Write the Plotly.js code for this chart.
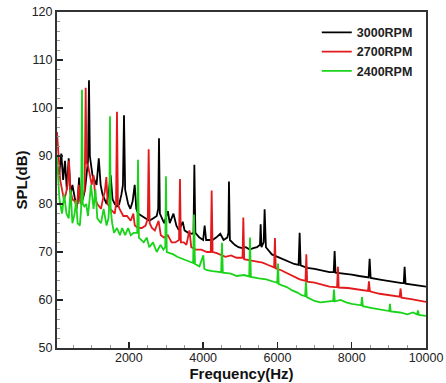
<!DOCTYPE html>
<html>
<head>
<meta charset="utf-8">
<script src="https://cdn.plot.ly/plotly-3.0.1.min.js"></script>
<style>html,body{margin:0;padding:0;background:#fff}#chart{width:446px;height:383px}</style>
</head>
<body>
<div id="chart"></div>
<script>
// 3000 RPM (black)
var f3000 = [65,120,180,230,280,330,380,430,480,550,620,660,700,760,820,880,900,926,950,1020,1080,1130,1190,1240,1290,1340,1400,1450,1510,1560,1620,1680,1740,1800,1840,1869,1900,1980,2040,2100,2157,2200,2250,2350,2450,2550,2650,2750,2790,2811,2835,2950,3050,3100,3200,3280,3350,3450,3500,3600,3700,3740,3763,3790,3900,4000,4040,4080,4150,4250,4350,4462,4550,4650,4680,4695,4720,4850,4950,5050,5150,5250,5350,5450,5530,5548,5570,5630,5655,5690,5850,6000,6150,6300,6450,6570,6598,6625,6800,7000,7200,7400,7515,7540,7565,7800,8000,8200,8400,8455,8482,8510,8800,9000,9200,9350,9400,9424,9450,9700,9850,10000];
var spl3000 = [88,86,90.5,85,89,83,89.5,82,84,81,80,85.5,80.5,81,83,88,89,105.8,90,86,85,84,89.5,84,82,81,80,82,86,81,80,79.5,80,82,84,98.5,83,80,79,80.5,84,79,78,77.5,77,76.5,77,77.5,79,93.7,78,76,78.5,76,78,75.5,74.5,76.3,74.5,74,73.8,74,88.2,74,73,72.5,75.5,72.5,72.5,72.5,73,73.8,72.5,73,74,84.7,72.5,71.5,71,70.8,71,70.5,70.8,71,71.5,75.8,71,72,78.9,71,69.5,69,68.5,68,67.5,67.3,74,67.2,66.7,66.5,66.2,65.8,65.8,70.2,65.7,65.5,65.3,65,64.7,64.7,68.6,64.6,64.2,63.9,63.6,63.5,63.5,66.9,63.4,63.1,63,62.8];

// 2700 RPM (red)
var f2700 = [65,100,150,200,250,300,350,388,420,480,550,600,650,700,760,810,837,860,900,960,1000,1050,1100,1150,1200,1250,1300,1350,1394,1430,1500,1560,1620,1655,1680,1705,1750,1850,1950,2050,2120,2160,2250,2350,2450,2510,2533,2560,2620,2700,2800,2860,2950,3050,3150,3250,3350,3376,3400,3480,3550,3630,3680,3800,3950,4100,4205,4229,4255,4350,4450,4600,4750,4900,5060,5082,5105,5200,5300,5450,5600,5750,5850,5910,5933,5955,6100,6200,6400,6600,6755,6778,6800,7000,7200,7400,7550,7605,7629,7650,7900,8100,8300,8440,8464,8490,8750,9000,9200,9290,9316,9340,9600,9800,10000];
var spl2700 = [95,91,85,83,81,82,84,89,83,81,80.5,79,84,80,82,83,104.2,88.5,88,85,84,86,81,80,79.5,79,81,82.5,85.6,80,79,78.5,78,80,99.2,80,79,77.5,77.5,76.5,78,75.5,75,75,75.5,77,91.4,76,75,74.5,76.5,73.5,73,73.5,72,72,72.5,85.2,72,72,71.5,74.5,71,70.5,70.5,70,70,82.8,70,69.8,69.5,69,69.3,68.8,68.8,77.2,68.5,68.3,68.2,68,67.8,67.3,67,66.8,72.9,66.6,66.2,65.8,65,64.3,64,69.5,63.8,63.6,63.2,62.8,62.7,62.7,66.9,62.6,62.5,62.3,62,61.9,63.9,61.8,61.3,61,60.8,60.7,62.4,60.5,60.2,59.9,59.6];

// 2400 RPM (green)
var f2400 = [65,100,130,200,260,320,380,430,480,540,580,620,680,715,738,760,800,850,900,980,1050,1100,1150,1250,1320,1400,1450,1475,1492,1510,1550,1600,1680,1760,1820,1900,1980,2050,2130,2225,2246,2270,2400,2480,2550,2650,2750,2850,2930,2980,3000,3020,3200,3300,3450,3600,3730,3754,3780,3900,4005,4030,4100,4250,4400,4485,4507,4530,4750,4900,5100,5240,5261,5285,5500,5700,5900,5995,6015,6035,6250,6400,6550,6650,6745,6768,6790,7000,7150,7300,7420,7500,7522,7545,7700,7850,8000,8150,8255,8276,8300,8550,8750,8900,9010,9030,9050,9300,9500,9650,9760,9783,9810,10000];
var spl2400 = [89.8,84,81,78,82,78,77,83,76,78,80.8,76,75.5,79,103.8,80,79.5,80,77.5,84,79,83,77,76,79,75.5,77,80,98.3,79,76,74,75,73.5,75,73.5,75,73.5,74,74,89.2,73,72,73,71,72,70,71.5,70.5,71,85.8,70,69.5,69,68.5,68,67.7,77.8,67.5,67,69.3,66.5,66.2,66,65.8,65.8,71.9,65.7,65.5,65,65.2,64.9,73,64.8,64.5,64.3,63.8,63.6,67.6,63.3,62.7,62,61.5,61,60.8,63.8,60.6,59.8,59.5,59.6,59.8,59.8,62.2,59.7,60,59.5,59.2,59,58.9,60.6,58.7,58.3,58,57.8,57.7,59.2,57.6,57.4,57,57.4,57,57.8,56.9,56.7];

var seriesNames = ['3000RPM','2700RPM','2400RPM'];
var seriesColors = ['#000000','#e31a1c','#19d419'];
var xs = [f3000, f2700, f2400];
var ys = [spl3000, spl2700, spl2400];

var traces = xs.map(function(x, i){
  return {x: x, y: ys[i], type: 'scatter', mode: 'lines', name: seriesNames[i],
          line: {color: seriesColors[i], width: 1.8}};
});

var tickFont = {family: 'Liberation Sans, Arial, sans-serif', size: 12.5, color: '#222'};
var titleFont = {family: 'Liberation Sans, Arial, sans-serif', size: 15, color: '#111', weight: 'bold'};

var layout = {
  width: 446, height: 383,
  margin: {l: 57, r: 20, t: 12, b: 35, pad: 0},
  paper_bgcolor: '#fff', plot_bgcolor: '#fff',
  showlegend: true,
  legend: {x: 0.704, y: 0.983, xanchor: 'left', yanchor: 'top', bgcolor: 'rgba(0,0,0,0)',
           font: {family: 'Liberation Sans, Arial, sans-serif', size: 12.5, color: '#222', weight: 'bold'},
           tracegroupgap: 0},
  xaxis: {
    range: [65, 10000], tickmode: 'linear', tick0: 0, dtick: 2000, tickformat: 'd',
    ticks: 'inside', ticklen: 6, tickwidth: 1.5, tickcolor: '#222', ticklabelstandoff: -3,
    showline: true, linecolor: '#333', linewidth: 2, mirror: true,
    showgrid: false, zeroline: false, tickfont: tickFont,
    minor: {dtick: 500, tick0: 0, ticks: 'inside', ticklen: 3, tickwidth: 1, tickcolor: '#999', showgrid: false},
    title: {text: 'Frequency(Hz)', font: titleFont, standoff: 0}
  },
  yaxis: {
    range: [50, 120], tickmode: 'linear', tick0: 50, dtick: 10,
    ticks: 'inside', ticklen: 6, tickwidth: 1.5, tickcolor: '#222',
    showline: true, linecolor: '#333', linewidth: 2, mirror: true,
    showgrid: false, zeroline: false, tickfont: tickFont,
    minor: {dtick: 2, tick0: 50, ticks: 'inside', ticklen: 3, tickwidth: 1, tickcolor: '#999', showgrid: false},
    title: {text: 'SPL(dB)', font: titleFont, standoff: 0}
  }
};

Plotly.newPlot('chart', traces, layout, {displayModeBar: false, staticPlot: true});
</script>
</body>
</html>
